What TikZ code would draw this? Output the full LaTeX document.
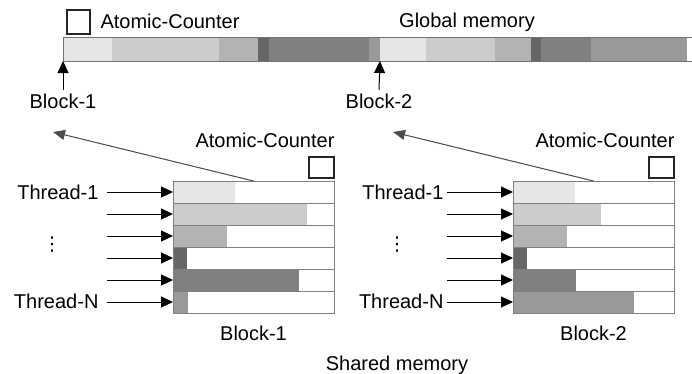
\documentclass[tikz,border=0pt]{standalone}
\usepackage{fontspec}
\setmainfont{Liberation Sans}
\newfontfamily\symfont{DejaVu Sans}
\usetikzlibrary{arrows.meta,positioning}
\definecolor{seg1}{HTML}{E6E6E6}
\definecolor{seg2}{HTML}{CCCCCC}
\definecolor{seg3}{HTML}{B3B3B3}
\definecolor{seg4}{HTML}{666666}
\definecolor{seg5}{HTML}{808080}
\definecolor{seg6}{HTML}{999999}
\begin{document}
\begin{tikzpicture}[x=1pt,y=-1pt,font=\fontsize{20}{24}\selectfont,
	frame/.style={draw=black!55,line width=1pt},
	cell/.style={draw=black!50,line width=1pt,minimum width=161pt,minimum height=22pt,inner sep=0pt,outer sep=0pt},
	counter/.style={draw=black!85,line width=1.2pt,minimum width=25pt,minimum height=21pt,inner sep=0pt},
	thread/.style={-{Triangle[length=12pt,width=11pt]},line width=1pt},
	fetch/.style={-{Triangle[length=12pt,width=10pt]},draw=black!70,fill=black!70,line width=1pt}]
	\useasboundingbox (0,0) rectangle (692,373);
	% global memory
	\foreach \xa/\xb/\c in {63/112/seg1,112/219/seg2,219/258/seg3,258/269/seg4,269/369/seg5,369/380/seg6,
		380/426/seg1,426/495/seg2,495/531/seg3,531/541/seg4,541/591/seg5,591/687/seg6}
		\fill[\c] (\xa,37) rectangle (\xb,61);
	\draw[frame] (700,37) -- (63,37) -- (63,61) -- (700,61);
	\node[counter,minimum width=23pt,minimum height=24pt] (gctr) at (78.5,22) {};
	\node[anchor=base west] (gctrlab) at (97,28) {Atomic-Counter};
	\node[anchor=base] (gmem) at (467,27) {Global memory};
	\coordinate (g1) at (63,61);
	\coordinate (g2) at (380,61);
	\node[anchor=base] (gb1) at (63,108) {Block-1};
	\node[anchor=base] (gb2) at (379,108) {Block-2};
	\draw[thread] (gb1.north) -- (g1);
	\draw[thread] (gb2.north) -- (g2);
	% shared memory blocks
	\def\memblock(#1,#2,#3,#4){%
		\foreach \w [count=\r] in {#3}{
			\fill[seg\r] (#2,159+22*\r) rectangle ++(\w,22);
			\node[cell] (blk#1r\r) at (#2+80.5,170+22*\r) {};
			\coordinate (blk#1t\r) at (#2-66,170+22*\r);
			\draw[thread] (blk#1t\r) -- (blk#1r\r.west);
		}
		\node[counter] (blk#1ctr) at (#2+148.5,167.5) {};
		\node[anchor=base east] (blk#1ctrlab) at (#2+165,147) {Atomic-Counter};
		\coordinate (blk#1tip) at (#2-120,132);
		\draw[fetch] (blk#1r1.north) -- (blk#1tip);
		\node[anchor=east] (blk#1th1) at (#4,192) {Thread-1};
		\node[anchor=east] (blk#1thN) at (#4,301) {Thread-N};
		\node[inner sep=0pt,font=\symfont\fontsize{19}{20}\selectfont] (blk#1dots) at (#4-50,245) {⋮};
		\node[anchor=base] (blk#1lab) at (#2+80.5,340) {Block-#1};
	}
	\memblock(1,173,{62,134,54,14,126,15},102)
	\memblock(2,513,{62,88,54,14,63,121},447)
	\node[anchor=base] (shmem) at (397,370) {Shared memory};
\end{tikzpicture}
\end{document}
